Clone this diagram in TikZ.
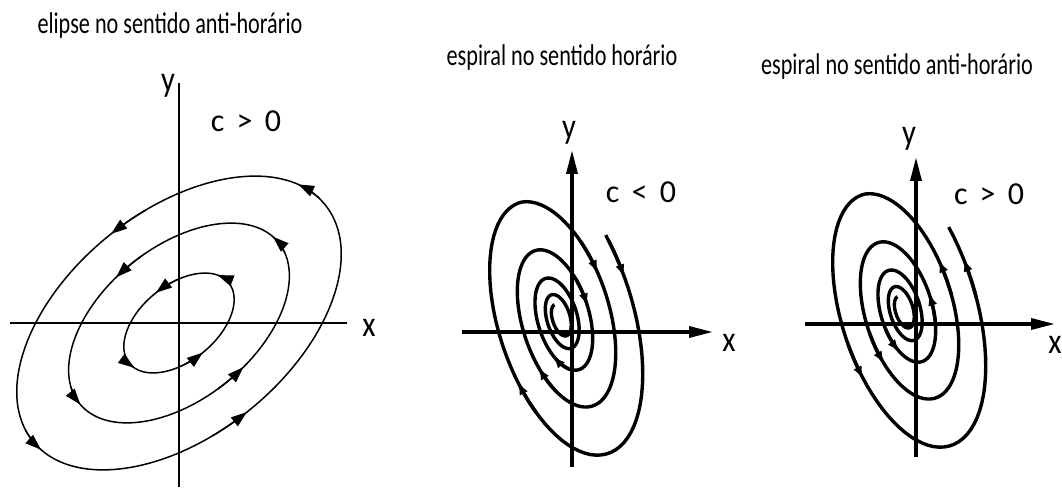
\documentclass[tikz,border=0pt]{standalone}
\usepackage{fontspec}
\setmainfont{Carlito}
\newfontfamily\narrowfont{Carlito}[FakeStretch=0.74]
\newfontfamily\axisfont{Carlito}[FakeStretch=0.85]
\usetikzlibrary{arrows.meta}
\tikzset{
  thinaxis/.style={line width=0.8pt},
  thickaxis/.style={line width=1.7pt,-{Triangle[length=12pt,width=5.5pt]}},
  orbit/.style={line width=0.75pt},
  orbtip/.style={orbit,-{Triangle[length=8pt,width=5.5pt]}},
  spiral/.style={line width=1.7pt},
  sptip/.style={spiral,-{Triangle[length=5pt,width=4pt]}},
  sptipback/.style={spiral,{Triangle[length=5pt,width=4pt]}-},
  ttl/.style={font=\narrowfont\fontsize{15}{17}\selectfont,anchor=base,inner sep=0pt},
  clbl/.style={font=\fontsize{16}{18}\selectfont,anchor=base,inner sep=0pt},
  axlbl/.style={font=\axisfont\fontsize{18}{20}\selectfont,anchor=base,inner sep=0pt},
  declare function={
    elx(\t,\a,\b)=\a*cos(\t)*cos(39)-\b*sin(\t)*sin(39);
    ely(\t,\a,\b)=\a*cos(\t)*sin(39)+\b*sin(\t)*cos(39);
    sf(\t)=(\t<=360)?exp(0.0517*rad(360-\t)):exp(-0.085*rad(\t-360));
    spx(\t)=sf(\t)*(122*cos(\t)*cos(108)+58*sin(\t)*sin(108));
    spy(\t)=sf(\t)*(122*cos(\t)*sin(108)-58*sin(\t)*cos(108));
  },
}
\newcommand{\csp}{\hspace{0.38em}}

\begin{document}
\begin{tikzpicture}[x=0.5pt,y=0.5pt]
\useasboundingbox (0,0) rectangle (1062,498);

% ================= LEFT: ellipses, counterclockwise =================
\node[ttl] (ttl-l) at (170,464) {elipse no sentido anti-horário};
\coordinate (l-xw) at (10,175);  \coordinate (l-xe) at (347,175);
\coordinate (l-ys) at (179,11);  \coordinate (l-yn) at (179,415);
\draw[thinaxis] (l-xw) -- (l-xe);
\draw[thinaxis] (l-ys) -- (l-yn);
\node[axlbl] (lx) at (369,161) {x};
\node[axlbl] (ly) at (168,406) {y};
\node[clbl] (cl) at (246,366) {c\csp>\csp0};
\begin{scope}[shift={(179,175)}]
  \draw[orbit,rotate=39] (0,0) ellipse [x radius=94pt,y radius=56pt];
  \draw[orbit,rotate=39] (0,0) ellipse [x radius=64pt,y radius=38pt];
  \draw[orbit,rotate=39] (0,0) ellipse [x radius=32pt,y radius=19pt];
  % arrow tips along each orbit
  \foreach \pa/\pb in {4/17,76/89,173/186,256/269}
    \draw[orbtip] plot[variable=\t,domain=\pa:\pb,samples=12] ({elx(\t,188,112)},{ely(\t,188,112)});
  \foreach \pa/\pb in {-9/6,84/99,166/181,265/280}
    \draw[orbtip] plot[variable=\t,domain=\pa:\pb,samples=12] ({elx(\t,128,76)},{ely(\t,128,76)});
  \foreach \pa/\pb in {-4/20,65/89,166/190,246/270}
    \draw[orbtip] plot[variable=\t,domain=\pa:\pb,samples=12] ({elx(\t,64,38)},{ely(\t,64,38)});
\end{scope}

% ================= MIDDLE: spiral, clockwise =================
\node[ttl] (ttl-m) at (562,432) {espiral no sentido horário};
\coordinate (m-xw) at (462,166); \coordinate (m-xe) at (713,166);
\coordinate (m-ys) at (572,31);  \coordinate (m-yn) at (572,348);
\draw[thickaxis] (m-xw) -- (m-xe);
\draw[thickaxis] (m-ys) -- (m-yn);
\node[axlbl] (mx) at (729,146) {x};
\node[axlbl] (my) at (569,359) {y};
\node[clbl] (cm) at (641,295) {c\csp<\csp0};
\begin{scope}[shift={(560,180)}]
  \draw[spiral] plot[variable=\t,domain=66:1790,samples=400] ({spx(\t)},{spy(\t)});
  \foreach \pa/\pb in {68/82,233/248,414/432,578/600,780/805,915/945}
    \draw[sptip] plot[variable=\t,domain=\pa:\pb,samples=12] ({spx(\t)},{spy(\t)});
\end{scope}

% ================= RIGHT: spiral, counterclockwise =================
\node[ttl] (ttl-r) at (897,423) {espiral no sentido anti-horário};
\coordinate (r-xw) at (805,174); \coordinate (r-xe) at (1055,174);
\coordinate (r-ys) at (916,41);  \coordinate (r-yn) at (916,341);
\draw[thickaxis] (r-xw) -- (r-xe);
\draw[thickaxis] (r-ys) -- (r-yn);
\node[axlbl] (rx) at (1055,144) {x};
\node[axlbl] (ry) at (909,353) {y};
\node[clbl] (cr) at (989,293) {c\csp>\csp0};
\begin{scope}[shift={(903,188)}]
  \draw[spiral] plot[variable=\t,domain=66:1790,samples=400] ({spx(\t)},{spy(\t)});
  \foreach \pa/\pb in {80/94,248/263,432/450,600/622,805/830,945/975}
    \draw[sptipback] plot[variable=\t,domain=\pa:\pb,samples=12] ({spx(\t)},{spy(\t)});
\end{scope}

\end{tikzpicture}
\end{document}
